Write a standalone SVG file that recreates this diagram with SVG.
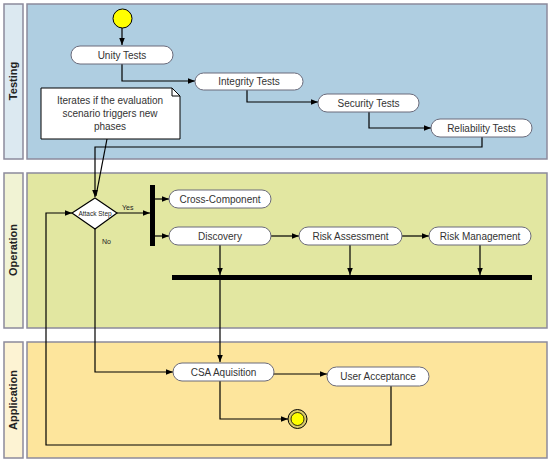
<svg xmlns="http://www.w3.org/2000/svg" width="550" height="463" viewBox="0 0 550 463">
<style>
.lane{stroke:#8c8a9c;stroke-width:1.5}
.lbl{font-family:"Liberation Sans",Arial,sans-serif;font-size:11px;font-weight:bold;fill:#222;text-anchor:middle}
.node rect{fill:#fff;stroke:#6b6b7b;stroke-width:1}
.node text,.t{font-family:"Liberation Sans",Arial,sans-serif;font-size:10px;fill:#333;text-anchor:middle}
.c{fill:none;stroke:#000;stroke-width:1.2}
.s{font-family:"Liberation Sans",Arial,sans-serif;font-size:7px;fill:#222}
</style>
<defs>
<marker id="a" viewBox="0 0 10 10" refX="10" refY="5" markerWidth="7" markerHeight="7" orient="auto" markerUnits="userSpaceOnUse"><path d="M0,1 L10,5 L0,9 z" fill="#000"/></marker>
</defs>
<rect width="550" height="463" fill="#fff"/>
<g id="lane-testing">
<rect class="lane" x="4" y="4" width="19" height="155" fill="#dce9f1"/>
<rect class="lane" x="27" y="4" width="520" height="155" fill="#afcee1"/>
<text class="lbl" transform="translate(17,81) rotate(-90)">Testing</text>
</g>
<g id="lane-operation">
<rect class="lane" x="4" y="173" width="19" height="155" fill="#f1f3d4"/>
<rect class="lane" x="27" y="173" width="520" height="155" fill="#e2e7a1"/>
<text class="lbl" transform="translate(17,250) rotate(-90)">Operation</text>
</g>
<g id="lane-application">
<rect class="lane" x="4" y="342" width="19" height="116" fill="#fdf3d3"/>
<rect class="lane" x="27" y="342" width="520" height="116" fill="#fde59c"/>
<text class="lbl" transform="translate(17,400) rotate(-90)">Application</text>
</g>
<g id="connectors">
<path class="c" d="M122,28 V45" marker-end="url(#a)"/>
<path class="c" d="M122,64 V81 H195" marker-end="url(#a)"/>
<path class="c" d="M247,90 V102 H318" marker-end="url(#a)"/>
<path class="c" d="M369,112 V128 H431" marker-end="url(#a)"/>
<path class="c" d="M482,137 V147 H95 V197" marker-end="url(#a)"/>
<path class="c" d="M107,139 L96,196"/>
<path class="c" d="M117,213 H150" marker-end="url(#a)"/>
<path class="c" d="M155,199 H169" marker-end="url(#a)"/>
<path class="c" d="M155,236 H169" marker-end="url(#a)"/>
<path class="c" d="M271,236 H299" marker-end="url(#a)"/>
<path class="c" d="M402,236 H429" marker-end="url(#a)"/>
<path class="c" d="M220,245 V275" marker-end="url(#a)"/>
<path class="c" d="M350,245 V275" marker-end="url(#a)"/>
<path class="c" d="M480,245 V275" marker-end="url(#a)"/>
<path class="c" d="M220,280 V362" marker-end="url(#a)"/>
<path class="c" d="M95,229 V372 H173" marker-end="url(#a)"/>
<path class="c" d="M274,374 H327" marker-end="url(#a)"/>
<path class="c" d="M220,381 V419 H288" marker-end="url(#a)"/>
<path class="c" d="M391,386 V445 H46 V213 H72" marker-end="url(#a)"/>
<text class="s" x="122" y="210">Yes</text>
<text class="s" x="102" y="244">No</text>
</g>
<g id="start"><circle cx="122.5" cy="18.5" r="9.5" fill="#ffff00" stroke="#000" stroke-width="1"/></g>
<g id="unity" class="node"><rect x="71" y="46" width="102" height="18" rx="9"/><text x="122" y="58.5">Unity Tests</text></g>
<g id="integrity" class="node"><rect x="195" y="73" width="108" height="17" rx="8.5"/><text x="249" y="85">Integrity Tests</text></g>
<g id="security" class="node"><rect x="318" y="94" width="101" height="18" rx="9"/><text x="368.5" y="106.5">Security Tests</text></g>
<g id="reliability" class="node"><rect x="431" y="119" width="101" height="18" rx="9"/><text x="481.5" y="131.5">Reliability Tests</text></g>
<g id="note">
<path d="M41,88 H172 L180,96 V139 H41 Z" fill="#fff" stroke="#000" stroke-width="1"/>
<path d="M172,88 V96 H180" fill="none" stroke="#000" stroke-width="1"/>
<text class="t" x="110" y="104">Iterates if the evaluation</text>
<text class="t" x="110" y="117">scenario  triggers  new</text>
<text class="t" x="110" y="130">phases</text>
</g>
<g id="attack-step">
<path d="M95,198 L117,213 L95,229 L72,213 Z" fill="#fff" stroke="#000" stroke-width="1.2"/>
<text class="s" x="95" y="215.5" text-anchor="middle" style="font-size:6.5px">Attack Step</text>
</g>
<g id="fork"><rect x="150" y="185" width="5" height="61" fill="#000"/></g>
<g id="cross-component" class="node"><rect x="169" y="190" width="102" height="18" rx="9"/><text x="220" y="202.5">Cross-Component</text></g>
<g id="discovery" class="node"><rect x="169" y="227" width="102" height="18" rx="9"/><text x="220" y="239.5">Discovery</text></g>
<g id="risk-assessment" class="node"><rect x="299" y="227" width="103" height="18" rx="9"/><text x="350.5" y="239.5">Risk Assessment</text></g>
<g id="risk-management" class="node"><rect x="429" y="227" width="102" height="18" rx="9"/><text x="480" y="239.5">Risk Management</text></g>
<g id="join"><rect x="172" y="275" width="360" height="5" fill="#000"/></g>
<g id="csa" class="node"><rect x="173" y="363" width="101" height="18" rx="9"/><text x="223.5" y="375.5">CSA Aquisition</text></g>
<g id="user-acceptance" class="node"><rect x="327" y="367" width="102" height="19" rx="9.5"/><text x="378" y="380">User Acceptance</text></g>
<g id="end">
<circle cx="297.5" cy="419" r="9.5" fill="#d8c96a" stroke="#000" stroke-width="1"/>
<circle cx="297.5" cy="419" r="6.5" fill="#ffff00" stroke="#000" stroke-width="0.8"/>
</g>
</svg>
